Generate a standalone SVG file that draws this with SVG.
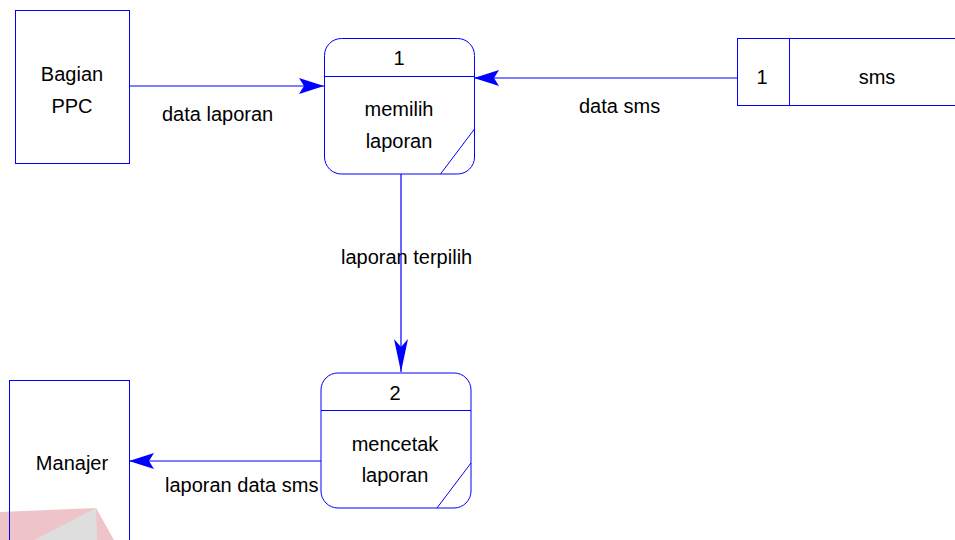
<svg xmlns="http://www.w3.org/2000/svg" width="955" height="540" viewBox="0 0 955 540">
  <style>
    .shape { fill: none; stroke: #0000ff; stroke-width: 1; }
    .flow { fill: none; stroke: #0000ff; stroke-width: 1.2; }
    text { font-family: "Liberation Sans", Arial, sans-serif; font-size: 20px; fill: #000; }
    .c { text-anchor: middle; }
  </style>
  <defs>
    <marker id="arrow" markerUnits="userSpaceOnUse" markerWidth="30" markerHeight="20" refX="25" refY="8" orient="auto">
      <path d="M0,0 L25,8 L0,16 L5,8 Z" fill="#0000ff"/>
    </marker>
    <marker id="arrowLong" markerUnits="userSpaceOnUse" markerWidth="36" markerHeight="18" refX="33" refY="7" orient="auto">
      <path d="M0,0 L33,7 L0,14 L8,7 Z" fill="#0000ff"/>
    </marker>
  </defs>

  <rect width="955" height="540" fill="#ffffff"/>

  <!-- faded logo mark, lower left -->
  <g id="logo-mark">
    <polygon points="0,512 96,508 114,540 0,540" fill="#efc4c8"/>
    <polygon points="96,508 34,540 97,540" fill="#dedede"/>
  </g>

  <g id="connectors">
    <line class="flow" x1="129" y1="86" x2="324" y2="86" marker-end="url(#arrow)"/>
    <line class="flow" x1="737" y1="78" x2="474" y2="78" marker-end="url(#arrow)"/>
    <line class="flow" x1="401" y1="174" x2="401" y2="372" marker-end="url(#arrowLong)"/>
    <line class="flow" x1="321" y1="461" x2="129" y2="461" marker-end="url(#arrow)"/>
    <text x="162" y="121">data laporan</text>
    <text x="579" y="113">data sms</text>
    <text x="341" y="264">laporan terpilih</text>
    <text x="165" y="492">laporan data sms</text>
  </g>

  <g id="bagian-ppc">
    <rect class="shape" x="15.5" y="10.5" width="114" height="153"/>
    <text class="c" x="72" y="81">Bagian</text>
    <text class="c" x="72" y="113">PPC</text>
  </g>

  <g id="process-1">
    <rect class="shape" x="324.5" y="38.5" width="150" height="135.5" rx="17" ry="17"/>
    <line class="shape" x1="324.5" y1="76.5" x2="474.5" y2="76.5"/>
    <line class="shape" x1="474.5" y1="129" x2="440.5" y2="174"/>
    <text class="c" x="399" y="65">1</text>
    <text class="c" x="399" y="116">memilih</text>
    <text class="c" x="399" y="148">laporan</text>
  </g>

  <g id="store-sms">
    <rect class="shape" x="737.5" y="38.5" width="240" height="67"/>
    <line class="shape" x1="789.5" y1="38.5" x2="789.5" y2="105.5"/>
    <text class="c" x="762" y="84">1</text>
    <text class="c" x="877" y="84">sms</text>
  </g>

  <g id="process-2">
    <rect class="shape" x="321" y="373" width="150" height="135" rx="17" ry="17"/>
    <line class="shape" x1="321" y1="410.5" x2="471" y2="410.5"/>
    <line class="shape" x1="471" y1="463" x2="437" y2="508"/>
    <text class="c" x="395" y="400">2</text>
    <text class="c" x="395" y="451">mencetak</text>
    <text class="c" x="395" y="482">laporan</text>
  </g>

  <g id="manajer">
    <rect class="shape" x="9.5" y="380.5" width="120" height="180"/>
    <text class="c" x="72" y="470">Manajer</text>
  </g>
</svg>
